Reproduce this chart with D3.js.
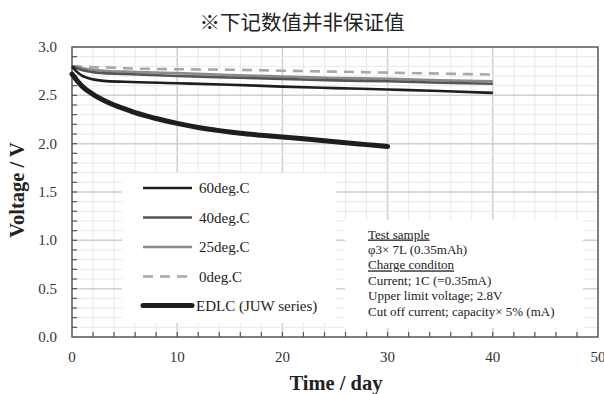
<!DOCTYPE html>
<html lang="zh">
<head>
  <meta charset="UTF-8">
  <title>Voltage vs Time</title>
  <script src="https://d3js.org/d3.v7.min.js"></script>
  <style>
    body { margin: 0; background: #fff; }
    svg { display: block; }
  </style>
</head>
<body>
  <svg id="chart" width="604" height="394"></svg>
  <script>
    // data
    const days = [0, 0.5, 1, 1.5, 2, 3, 5, 10, 15, 20, 25, 30, 35, 40];
    const v60 = [2.80, 2.74, 2.70, 2.68, 2.665, 2.65, 2.64, 2.625, 2.61, 2.59, 2.575, 2.56, 2.545, 2.525];
    const v40 = [2.80, 2.78, 2.76, 2.75, 2.74, 2.73, 2.72, 2.70, 2.685, 2.67, 2.655, 2.645, 2.63, 2.62];
    const v25 = [2.80, 2.79, 2.78, 2.77, 2.765, 2.755, 2.745, 2.73, 2.71, 2.695, 2.68, 2.67, 2.655, 2.645];
    const v0 = [2.80, 2.80, 2.795, 2.795, 2.79, 2.79, 2.78, 2.77, 2.765, 2.755, 2.745, 2.735, 2.725, 2.715];
    const edlcDays = [0, 0.5, 1, 2, 3, 4, 5, 6, 7, 8, 10, 12, 14, 16, 18, 20, 22, 24, 26, 28, 30];
    const edlc = [2.72, 2.65, 2.59, 2.51, 2.45, 2.40, 2.36, 2.32, 2.29, 2.26, 2.21, 2.168, 2.135, 2.108, 2.087, 2.068, 2.05, 2.03, 2.01, 1.99, 1.97];

    const seriesNames = ["60deg.C", "40deg.C", "25deg.C", "0deg.C", "EDLC (JUW series)"];
    const xTicks = [0, 10, 20, 30, 40, 50];
    const yTicks = [0, 0.5, 1.0, 1.5, 2.0, 2.5, 3.0];
    const noteLines = [
      "Test sample",
      "φ3× 7L (0.35mAh)",
      "Charge conditon",
      "Current; 1C (=0.35mA)",
      "Upper limit  voltage;  2.8V",
      "Cut off current; capacity× 5% (mA)"
    ];

    const svg = d3.select("#chart");
    const serif = "'Liberation Serif', 'Times New Roman', serif";

    const x = d3.scaleLinear().domain([0, 50]).range([72, 598]);
    const y = d3.scaleLinear().domain([0, 3]).range([337, 47]);

    // title
    svg.append("text")
      .attr("x", 302).attr("y", 30)
      .attr("text-anchor", "middle")
      .attr("font-family", "'Noto Sans CJK SC', sans-serif")
      .attr("font-size", 20.5)
      .attr("fill", "#222")
      .text("※下记数值并非保证值");

    // grid
    const grid = svg.append("g");
    d3.range(2, 50, 2).forEach(d => {
      grid.append("line")
        .attr("x1", x(d)).attr("x2", x(d))
        .attr("y1", y(0)).attr("y2", y(3))
        .attr("stroke", d % 10 === 0 ? "#cfcfcf" : "#e8e8e8")
        .attr("stroke-width", d % 10 === 0 ? 1.5 : 1);
    });
    d3.range(1, 30).forEach(i => {
      const v = i / 10;
      grid.append("line")
        .attr("x1", x(0)).attr("x2", x(50))
        .attr("y1", y(v)).attr("y2", y(v))
        .attr("stroke", i % 5 === 0 ? "#cfcfcf" : "#e8e8e8")
        .attr("stroke-width", i % 5 === 0 ? 1.5 : 1);
    });

    // white boxes for legend and note
    svg.append("rect")
      .attr("x", 122).attr("y", 173).attr("width", 214).attr("height", 150)
      .attr("fill", "#fff");
    svg.append("rect")
      .attr("x", 345).attr("y", 220).attr("width", 238).attr("height", 108)
      .attr("fill", "#fff");

    // frame
    svg.append("rect")
      .attr("x", x(0)).attr("y", y(3))
      .attr("width", x(50) - x(0)).attr("height", y(0) - y(3))
      .attr("fill", "none").attr("stroke", "#555").attr("stroke-width", 1.5);

    // inner ticks
    d3.range(1, 30).forEach(i => {
      svg.append("line")
        .attr("x1", x(0)).attr("x2", x(0) + 5)
        .attr("y1", y(i / 10)).attr("y2", y(i / 10))
        .attr("stroke", "#555").attr("stroke-width", 1.2);
    });
    d3.range(2, 50, 2).forEach(d => {
      svg.append("line")
        .attr("x1", x(d)).attr("x2", x(d))
        .attr("y1", y(0)).attr("y2", y(0) - 5)
        .attr("stroke", "#555").attr("stroke-width", 1.2);
    });

    // tick labels
    svg.selectAll(".xl").data(xTicks).enter().append("text")
      .attr("x", d => x(d)).attr("y", 362)
      .attr("text-anchor", "middle")
      .attr("font-family", serif).attr("font-size", 15).attr("fill", "#333")
      .text(d => d);
    svg.selectAll(".yl").data(yTicks).enter().append("text")
      .attr("x", 57).attr("y", d => y(d) + 5)
      .attr("text-anchor", "end")
      .attr("font-family", serif).attr("font-size", 15).attr("fill", "#333")
      .text(d => d.toFixed(1));

    // axis titles
    svg.append("text")
      .attr("x", 336).attr("y", 390)
      .attr("text-anchor", "middle")
      .attr("font-family", serif).attr("font-size", 20.5).attr("font-weight", "bold")
      .attr("fill", "#222")
      .text("Time / day");
    svg.append("text")
      .attr("transform", "translate(24,190) rotate(-90)")
      .attr("text-anchor", "middle")
      .attr("font-family", serif).attr("font-size", 20.5).attr("font-weight", "bold")
      .attr("fill", "#222")
      .text("Voltage / V");

    // series
    const styles = [
      { color: "#1e1e1e", width: 2.6, dash: null },
      { color: "#555", width: 2.6, dash: null },
      { color: "#8a8a8a", width: 2.6, dash: null },
      { color: "#a8a8a8", width: 2.6, dash: "10,7" },
      { color: "#1e1e1e", width: 5, dash: null }
    ];
    const seriesData = [
      days.map((d, i) => [d, v60[i]]),
      days.map((d, i) => [d, v40[i]]),
      days.map((d, i) => [d, v25[i]]),
      days.map((d, i) => [d, v0[i]]),
      edlcDays.map((d, i) => [d, edlc[i]])
    ];
    const line = d3.line()
      .x(d => x(d[0])).y(d => y(d[1]))
      .curve(d3.curveMonotoneX);

    [3, 2, 1, 0, 4].forEach(k => {
      svg.append("path")
        .attr("d", line(seriesData[k]))
        .attr("fill", "none")
        .attr("stroke", styles[k].color)
        .attr("stroke-width", styles[k].width)
        .attr("stroke-dasharray", styles[k].dash)
        .attr("stroke-linecap", k === 4 ? "round" : "butt");
    });

    // legend
    const legendY = [188, 217.5, 247, 276.5, 305.5];
    seriesNames.forEach((name, k) => {
      svg.append("line")
        .attr("x1", 143).attr("x2", 192)
        .attr("y1", legendY[k]).attr("y2", legendY[k])
        .attr("stroke", styles[k].color)
        .attr("stroke-width", styles[k].width)
        .attr("stroke-dasharray", styles[k].dash)
        .attr("stroke-linecap", k === 4 ? "round" : "butt");
      svg.append("text")
        .attr("x", k === 4 ? 196 : 199).attr("y", legendY[k] + 5)
        .attr("font-family", serif).attr("font-size", 15).attr("fill", "#222")
        .text(name);
    });

    // note
    noteLines.forEach((t, i) => {
      svg.append("text")
        .attr("x", 368).attr("y", 238.5 + i * 15.45)
        .attr("font-family", serif).attr("font-size", 13).attr("fill", "#222")
        .attr("text-decoration", (i === 0 || i === 2) ? "underline" : null)
        .text(t);
    });
  </script>
</body>
</html>
